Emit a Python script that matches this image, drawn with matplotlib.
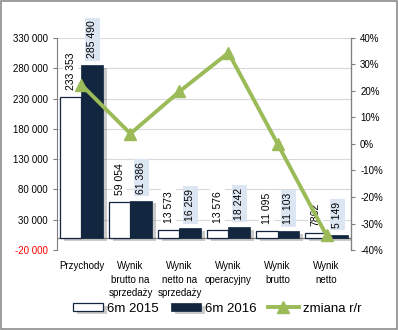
import numpy as np
import matplotlib.pyplot as plt
import matplotlib.patheffects as pe
from matplotlib.ticker import FuncFormatter

categories = ['Przychody', 'Wynik\nbrutto na\nsprzedaży', 'Wynik\nnetto na\nsprzedaży',
              'Wynik\noperacyjny', 'Wynik\nbrutto', 'Wynik\nnetto']
v2015 = [233353, 59054, 13573, 13576, 11095, 7862]
v2016 = [285490, 61386, 16259, 18242, 11103, 5149]
zmiana = [0.223, 0.039, 0.198, 0.344, 0.001, -0.345]

plt.rcParams['font.family'] = ['Liberation Sans', 'DejaVu Sans']

fig = plt.figure(figsize=(3.98, 3.30), dpi=100)
fig.patches.append(plt.Rectangle((0.003, 0.003), 0.994, 0.994, transform=fig.transFigure,
                                 fill=False, edgecolor='#8c8c8c', linewidth=1.2))
ax = fig.add_axes([0.143, 0.2424, 0.739, 0.6426])
ax2 = ax.twinx()

x = np.arange(len(categories))
w = 0.44
shadow = [pe.SimplePatchShadow(offset=(3, -2), alpha=0.3, shadow_rgbFace='#555555'), pe.Normal()]
b1 = ax.bar(x - w / 2, v2015, w, color='white', edgecolor='#13263f', linewidth=0.9,
            label='6m 2015', zorder=2, path_effects=shadow)
b2 = ax.bar(x + w / 2, v2016, w, color='#13263f', edgecolor='#13263f', linewidth=0.5,
            label='6m 2016', zorder=2, path_effects=shadow)


def fmt(v):
    # Excel drops the thousands space for 4-digit numbers
    return str(v) if v < 10000 and v != 5149 else f'{v:,}'.replace(',', ' ')


for i in range(len(categories)):
    ax.annotate(fmt(v2015[i]), (x[i] - w / 2, v2015[i]), xytext=(0, 5),
                textcoords='offset points', rotation=90, ha='center', va='bottom',
                fontsize=7.5, zorder=4,
                bbox=dict(boxstyle='square,pad=0.25', fc='white', ec='none'))
    ax.annotate(fmt(v2016[i]), (x[i] + w / 2, v2016[i]), xytext=(0, 5),
                textcoords='offset points', rotation=90, ha='center', va='bottom',
                fontsize=7.5, zorder=4,
                bbox=dict(boxstyle='square,pad=0.25', fc='#dce6f2', ec='none'))

ax.set_xlim(-0.5, len(categories) - 0.5)
ax.set_ylim(-20000, 330000)
ax.set_yticks(np.arange(-20000, 330001, 50000))
ax.yaxis.set_major_formatter(FuncFormatter(lambda v, p: f'{int(v):,}'.replace(',', ' ')))
ax.yaxis.grid(True, color='#d9d9d9', linewidth=0.8)
ax.set_axisbelow(True)
ax.axhline(0, color='#7f7f7f', linewidth=0.9, zorder=1)
ax.set_xticks(x)
ax.set_xticklabels(categories, fontsize=7, linespacing=1.45)
ax.tick_params(axis='x', length=0, pad=8)
ax.tick_params(axis='y', labelsize=7, length=3, color='#7f7f7f')
ax.get_yticklabels()[0].set_color('red')
for s in ['top', 'bottom']:
    ax.spines[s].set_visible(False)
    ax2.spines[s].set_visible(False)
ax.spines['left'].set_color('#7f7f7f')
ax2.spines['left'].set_visible(False)
ax2.spines['right'].set_color('#7f7f7f')

ln, = ax2.plot(x, zmiana, color='#9bbb59', linewidth=2.8, marker='^', markersize=8,
               label='zmiana r/r', zorder=5)
ax2.set_ylim(-0.4, 0.4)
ax2.set_yticks(np.arange(-0.4, 0.41, 0.1))
ax2.yaxis.set_major_formatter(FuncFormatter(lambda v, p: f'{int(round(v * 100))}%'))
ax2.tick_params(axis='y', labelsize=7, length=3, color='#7f7f7f')
ax2.set_zorder(ax.get_zorder() + 1)
ax2.patch.set_visible(False)

fig.legend(handles=[b1, b2, ln], loc='lower center', bbox_to_anchor=(0.545, 0.01), ncol=3,
           frameon=False, fontsize=9.5, handlelength=2.3, handleheight=0.6,
           handletextpad=0.3, columnspacing=0.9)

fig.savefig('out.png', dpi=100)
